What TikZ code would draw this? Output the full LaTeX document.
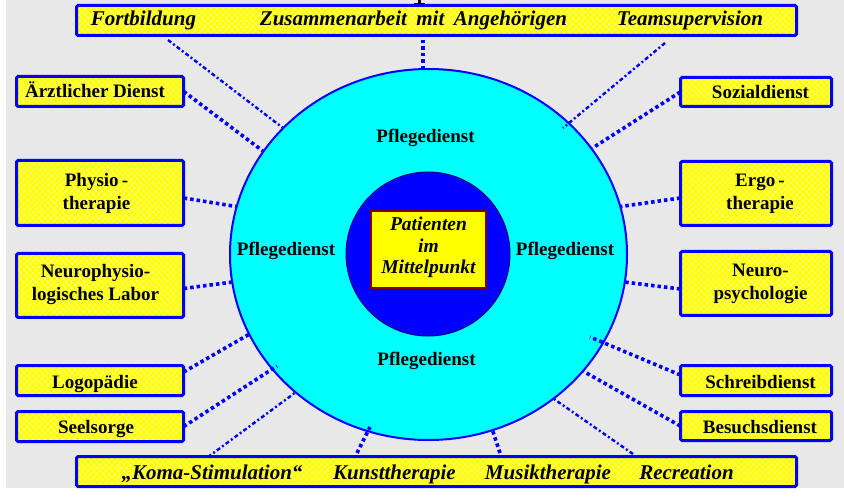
\documentclass[tikz,border=0pt]{standalone}
\usepackage{fontspec}
\setmainfont{Liberation Serif}
\usetikzlibrary{shapes.geometric,patterns.meta}
\definecolor{bgray}{HTML}{E8E8E8}
\definecolor{navyb}{HTML}{000080}
\definecolor{boxred}{HTML}{800000}
\definecolor{cyanf}{HTML}{00FFFF}
\definecolor{blueb}{HTML}{0000FF}
\definecolor{yelf}{HTML}{FFFF00}
\tikzset{
  ybox/.style={rectangle, inner sep=0pt, rounded corners=1.5pt, fill=yelf,
    postaction={pattern={Lines[angle=45,distance=4pt,line width=0.6pt]}, pattern color=yelf!30!white},
    postaction={pattern={Lines[angle=-45,distance=4pt,line width=0.6pt]}, pattern color=yelf!30!white},
    postaction={draw=blueb, line width=3pt}},
  lbox/.style={ybox, minimum width=167pt},
  rbox/.style={ybox, minimum width=151pt},
  btxt/.style={font=\fontsize{19}{23}\selectfont\bfseries, align=center, inner sep=0pt},
  itxt/.style={font=\fontsize{21}{25}\selectfont\bfseries\itshape, inner sep=0pt, anchor=base},
  pdtxt/.style={font=\fontsize{19}{23}\selectfont\bfseries, inner sep=0pt, anchor=base},
  thickdot/.style={draw=blueb, line width=3.6pt, dash pattern=on 3.5pt off 3pt},
  thindash/.style={draw=blueb, line width=2.4pt, dash pattern=on 4pt off 2.5pt on 2pt off 2.5pt},
}
\begin{document}
\begin{tikzpicture}[x=1pt,y=-1pt]
\useasboundingbox (0,0) rectangle (844,497);
\fill[white] (0,0) rectangle (844,497);
\fill[bgray] (6,0) rectangle (844,488);
% cut-off title glyph at the top
\fill[black] (418,0) rectangle (421,4);
\fill[black] (414,3) rectangle (425,4.5);

% top and bottom bars
\node[ybox, minimum width=720pt, minimum height=30pt] (topbar) at (436.5,20.5) {};
\node[itxt] (fort) at (143.5,25.5) {Fortbildung};
\node[itxt] (zus) at (413.5,25.5) {Zusammenarbeit\hspace{0.45em}mit\hspace{0.45em}Angehörigen};
\node[itxt] (team) at (690,25.5) {Teamsupervision};

\node[ybox, minimum width=720pt, minimum height=30pt] (botbar) at (436.5,471.5) {};
\node[itxt] (koma) at (212,479) {„Koma-Stimulation“};
\node[itxt] (kunst) at (394.5,479) {Kunsttherapie};
\node[itxt] (musik) at (548,479) {Musiktherapie};
\node[itxt] (recr) at (686.5,479) {Recreation};

% left boxes
\node[lbox, minimum height=30pt] (aerzt) at (100,91.5) {};
\node[pdtxt] at (95,98) {Ärztlicher Dienst};
\node[lbox, minimum height=65pt] (physio) at (100,193) {};
\node[btxt] at (96.5,193.5) {Physio\,-\\therapie};
\node[lbox, minimum height=64pt] (nphys) at (100,285.5) {};
\node[btxt] at (95.5,284.5) {Neurophysio-\\logisches Labor};
\node[lbox, minimum height=30pt] (logo) at (100,380.5) {};
\node[pdtxt] at (95,388) {Logopädie};
\node[lbox, minimum height=30pt] (seel) at (100,426.5) {};
\node[pdtxt] at (96,433) {Seelsorge};

% right boxes
\node[rbox, minimum height=29pt] (sozial) at (756,92) {};
\node[pdtxt] at (760.5,99) {Sozialdienst};
\node[rbox, minimum height=64pt] (ergo) at (756,193.5) {};
\node[btxt] at (760,193.5) {Ergo\,-\\therapie};
\node[rbox, minimum height=64pt] (npsy) at (756,283.5) {};
\node[btxt] at (760.5,283.5) {Neuro-\\psychologie};
\node[rbox, minimum height=30pt] (schreib) at (756,380.5) {};
\node[pdtxt] at (760.5,388) {Schreibdienst};
\node[rbox, minimum height=29pt] (besuch) at (756,426) {};
\node[pdtxt] at (760,433) {Besuchsdienst};

% circles
\node[ellipse, draw=blueb, line width=2pt, fill=cyanf, inner sep=0pt,
      minimum width=397pt, minimum height=371pt] (pd) at (428.5,254.5) {};
\node[pdtxt] at (425.5,143) {Pflegedienst};
\node[pdtxt] at (286,256) {Pflegedienst};
\node[pdtxt] at (565,256) {Pflegedienst};
\node[pdtxt] at (426.5,366) {Pflegedienst};

\node[circle, draw=navyb, line width=1pt, fill=blueb, inner sep=0pt,
      minimum size=164pt] (inner) at (428,254) {};
\node[rectangle, draw=boxred, line width=2pt, fill=yelf, inner sep=0pt,
      minimum width=115pt, minimum height=77pt] (pat) at (428.5,249.5) {};
\node[font=\fontsize{19.5}{21.5}\selectfont\bfseries\itshape, align=center, inner sep=0pt]
      at (428.5,247.5) {Patienten\\im\\Mittelpunkt};

% connector ends
\coordinate (cFort) at (168,40);
\coordinate (cTop) at (423,40);
\coordinate (cTeam) at (665,43);
\coordinate (cKoma) at (208,457);
\coordinate (cKunst) at (357,453);
\coordinate (cMusik) at (500,453);
\coordinate (cRec) at (633,454);
\coordinate (eSchreib) at (590,337);
\coordinate (eTeam) at (563,128);
\coordinate (eKunst) at (370,427);
\coordinate (eSeel) at (277,366);
\coordinate (eTop) at (423,69);

% connectors
\draw[thindash] (cFort) -- (pd.139.6);
\draw[thickdot] (cTop) -- (eTop);
\draw[thindash] (cTeam) -- (eTeam);
\draw[thickdot] (aerzt.east) -- (pd.148.6);
\draw[thickdot] ([yshift=-5pt]physio.east) -- (pd.166.5);
\draw[thickdot] ([yshift=-3pt]nphys.east) -- (pd.188.2);
\draw[thickdot] ([yshift=8.5pt]logo.east) -- (pd.204.6);
\draw[thickdot] (seel.east) -- (eSeel);
\draw[thindash] (cKoma) -- (pd.226.3);
\draw[thickdot] (cKunst) -- (eKunst);
\draw[thickdot] (cMusik) -- (pd.290.8);
\draw[thindash] (cRec) -- (pd.311.4);
\draw[thickdot] (besuch.west) -- (pd.323.8);
\draw[thickdot] ([yshift=5.5pt]schreib.west) -- (eSchreib);
\draw[thickdot] ([yshift=-5.5pt]npsy.west) -- (pd.352);
\draw[thickdot] ([yshift=-4.5pt]ergo.west) -- (pd.14.3);
\draw[thickdot] (sozial.west) -- (pd.33);
\end{tikzpicture}
\end{document}
